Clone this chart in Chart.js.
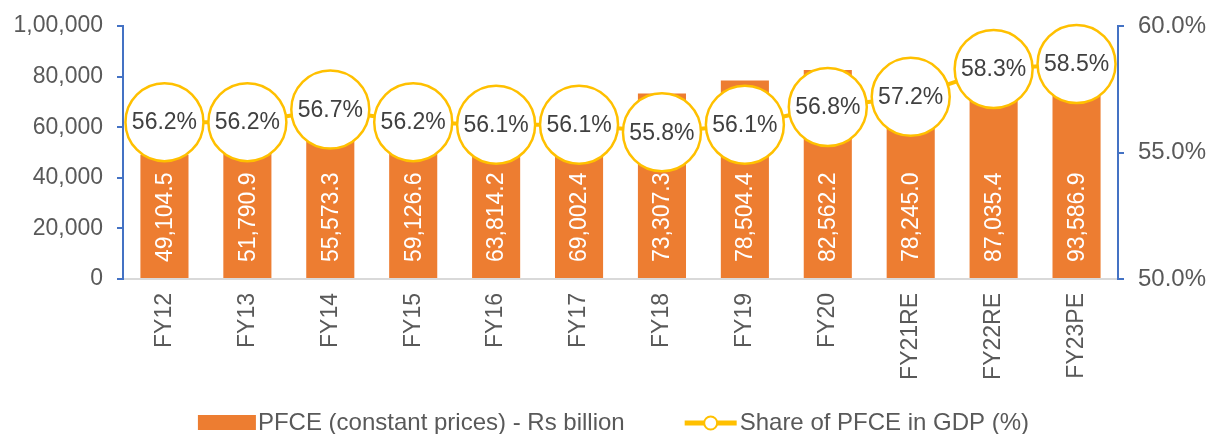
<!DOCTYPE html>
<html>
<head>
<meta charset="utf-8">
<script src="https://cdn.jsdelivr.net/npm/chart.js@4/dist/chart.umd.min.js"></script>
<style>
  html, body { margin: 0; padding: 0; background: #fff; }
  #wrap { width: 1209px; height: 434px; }
</style>
</head>
<body>
<div id="wrap"><canvas id="GraficoPfce" width="1209" height="434" style="width: 1209px; height: 434px;"></canvas></div>
<script>
var anos = ["FY12", "FY13", "FY14", "FY15", "FY16", "FY17", "FY18", "FY19", "FY20", "FY21RE", "FY22RE", "FY23PE"];
var pfce = [49104.5, 51790.9, 55573.3, 59126.6, 63814.2, 69002.4, 73307.3, 78504.4, 82562.2, 78245.0, 87035.4, 93586.9];
var participacao = [56.2, 56.2, 56.7, 56.2, 56.1, 56.1, 55.8, 56.1, 56.8, 57.2, 58.3, 58.5];
var ticksEsquerda = [0, 20000, 40000, 60000, 80000, 100000];
var ticksDireita = [50, 55, 60];
var nomesSeries = ["PFCE (constant prices) - Rs billion", "Share of PFCE in GDP (%)"];

var fonte = "'Liberation Sans', Arial, sans-serif";
var laranja = "#ED7D31";
var dourado = "#FFC000";
var azul = "#4472C4";
var cinzaTexto = "#595959";

// formato indiano: 1,00,000
function formatoIndiano(n) {
    var s = String(Math.round(n));
    if (s.length <= 3) return s;
    var fim = s.slice(-3);
    var resto = s.slice(0, -3).replace(/\B(?=(\d{2})+(?!\d))/g, ",");
    return resto + "," + fim;
}

function formatoBarra(v) {
    var partes = v.toFixed(1).split(".");
    return partes[0].replace(/\B(?=(\d{3})+(?!\d))/g, ",") + "." + partes[1];
}

var rotulos = {
    id: "rotulos",
    afterDatasetsDraw: function (chart) {
        var ctx = chart.ctx;
        var barras = chart.getDatasetMeta(0).data;
        var base = chart.scales.y.getPixelForValue(0);
        ctx.save();
        ctx.font = "23px " + fonte;
        ctx.fillStyle = "#ffffff";
        ctx.textAlign = "left";
        ctx.textBaseline = "middle";
        barras.forEach(function (b, i) {
            ctx.save();
            ctx.translate(b.x, base - 17);
            ctx.rotate(-Math.PI / 2);
            ctx.fillText(formatoBarra(pfce[i]), 0, 1);
            ctx.restore();
        });
        var pontos = chart.getDatasetMeta(1).data;
        ctx.fillStyle = "#404040";
        ctx.textAlign = "center";
        pontos.forEach(function (p, i) {
            ctx.fillText(participacao[i].toFixed(1) + "%", p.x, p.y + 1);
        });
        ctx.restore();
    }
};

// legenda desenhada na mao, embaixo
var legenda = {
    id: "legenda",
    afterDraw: function (chart) {
        var ctx = chart.ctx;
        var area = chart.chartArea;
        ctx.save();
        ctx.font = "24px " + fonte;
        ctx.textBaseline = "middle";
        ctx.textAlign = "left";
        var w1 = ctx.measureText(nomesSeries[0]).width;
        var w2 = ctx.measureText(nomesSeries[1]).width;
        var total = 58 + 2 + w1 + 62 + 52 + 3 + w2;
        var x = (area.left + area.right) / 2 - 6 - total / 2;
        var y = 423;
        ctx.fillStyle = laranja;
        ctx.fillRect(x, y - 8, 58, 15);
        x += 60;
        ctx.fillStyle = cinzaTexto;
        ctx.fillText(nomesSeries[0], x, y);
        x += w1 + 60;
        ctx.strokeStyle = dourado;
        ctx.lineWidth = 5;
        ctx.beginPath(); ctx.moveTo(x, y); ctx.lineTo(x + 52, y); ctx.stroke();
        ctx.fillStyle = "#fff";
        ctx.lineWidth = 2;
        ctx.beginPath(); ctx.arc(x + 26, y, 6.5, 0, Math.PI * 2); ctx.fill(); ctx.stroke();
        x += 55;
        ctx.fillStyle = cinzaTexto;
        ctx.fillText(nomesSeries[1], x, y);
        ctx.restore();
    }
};

var ctx = document.getElementById("GraficoPfce").getContext("2d");
var grafico = new Chart(ctx, {
    type: "bar",
    data: {
        labels: anos,
        datasets: [{
            label: nomesSeries[0],
            data: pfce,
            backgroundColor: laranja,
            barPercentage: 0.58,
            categoryPercentage: 1,
            yAxisID: "y",
            order: 1
        }, {
            type: "line",
            label: nomesSeries[1],
            data: participacao,
            borderColor: dourado,
            borderWidth: 4,
            pointRadius: 39,
            pointHoverRadius: 39,
            pointBackgroundColor: "#ffffff",
            pointBorderColor: dourado,
            pointBorderWidth: 2.5,
            clip: false,
            yAxisID: "y1",
            order: 0
        }]
    },
    options: {
        responsive: false,
        animation: false,
        events: [],
        layout: { padding: 0, autoPadding: false },
        plugins: {
            tooltip: { enabled: false },
            legend: { display: false }
        },
        scales: {
            x: {
                offset: true,
                grid: { display: false },
                border: { color: "#D9D9D9", width: 2 },
                ticks: {
                    color: cinzaTexto,
                    font: { family: fonte, size: 23 },
                    maxRotation: 90,
                    minRotation: 90,
                    padding: 6
                },
                afterFit: function (axis) {
                    axis.height = 155;
                    axis.paddingLeft = 0;
                    axis.paddingRight = 0;
                }
            },
            y: {
                position: "left",
                min: 0,
                max: 100000,
                afterBuildTicks: function (axis) {
                    axis.ticks = ticksEsquerda.map(function (v) { return { value: v }; });
                },
                grid: { drawOnChartArea: false, drawTicks: true, tickLength: 6, color: azul, lineWidth: 2 },
                border: { color: azul, width: 2 },
                ticks: {
                    color: cinzaTexto,
                    font: { family: fonte, size: 23 },
                    padding: 14,
                    callback: function (v) { return formatoIndiano(v); }
                },
                afterFit: function (axis) {
                    axis.width = 123;
                    axis.paddingTop = 26;
                    axis.paddingBottom = 0;
                }
            },
            y1: {
                position: "right",
                min: 50,
                max: 60,
                afterBuildTicks: function (axis) {
                    axis.ticks = ticksDireita.map(function (v) { return { value: v }; });
                },
                grid: { drawOnChartArea: false, drawTicks: true, tickLength: 6, color: azul, lineWidth: 2 },
                border: { color: azul, width: 2 },
                ticks: {
                    color: cinzaTexto,
                    font: { family: fonte, size: 24 },
                    padding: 14,
                    callback: function (v) { return v.toFixed(1) + "%"; }
                },
                afterFit: function (axis) {
                    axis.width = 91;
                    axis.paddingTop = 0;
                    axis.paddingBottom = 0;
                }
            }
        }
    },
    plugins: [rotulos, legenda]
});
</script>
</body>
</html>
